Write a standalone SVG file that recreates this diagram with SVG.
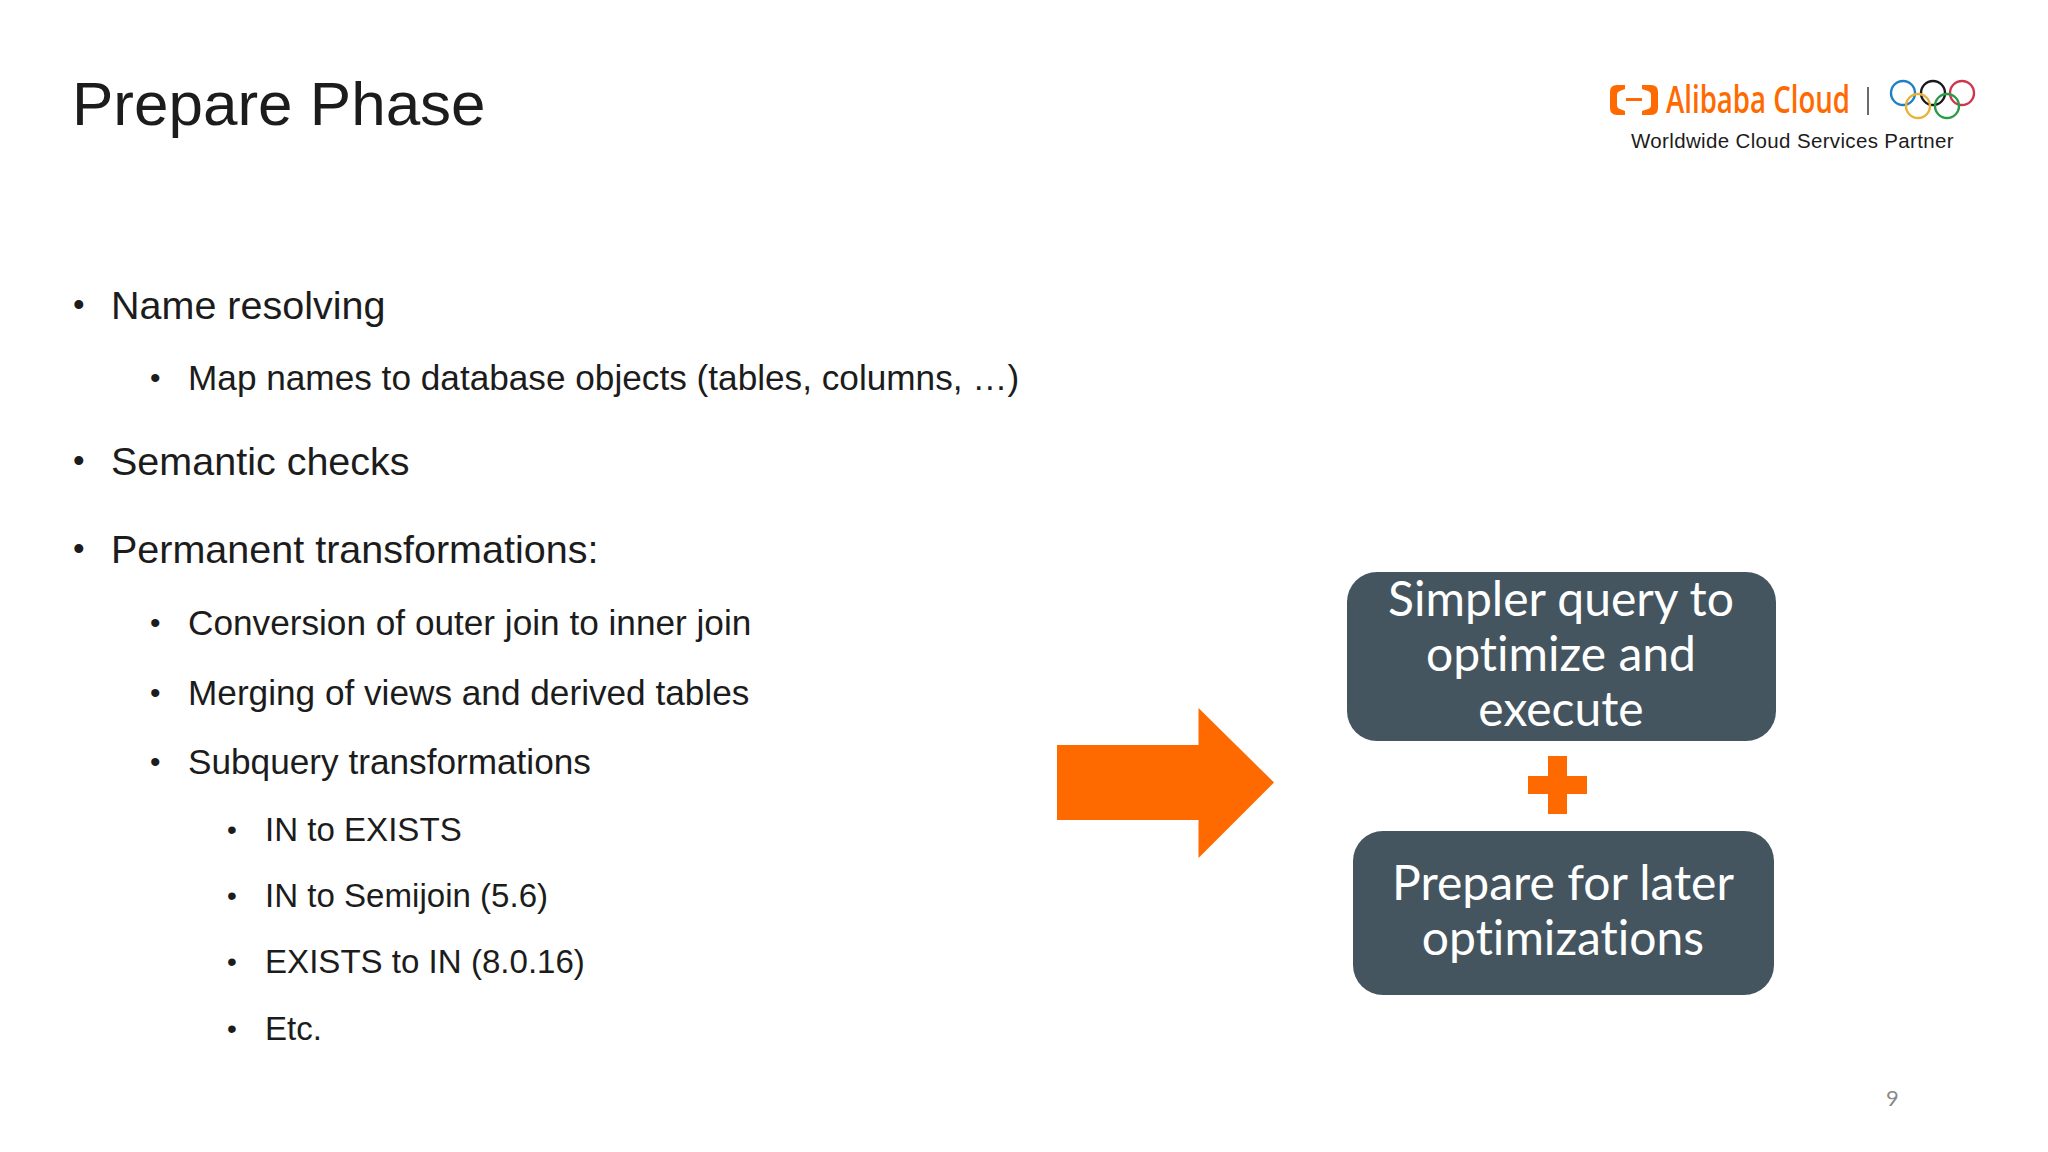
<svg xmlns="http://www.w3.org/2000/svg" width="2048" height="1152" viewBox="0 0 2048 1152">
<style>
text{font-family:"Liberation Sans",Arial,sans-serif;fill:#1c1c1c}
.l1{font-size:39.500px}.l2{font-size:35.200px}.l3{font-size:33.100px}
.b1{font-size:33px}.b2{font-size:30px}.b3{font-size:28px}
.bx{fill:#44555f}
.bt{font-family:Lato,"Open Sans",sans-serif;font-size:48px;fill:#fff;text-anchor:middle;font-variant-ligatures:none}
.or{fill:#ff6a00}
.ring{fill:none;stroke-width:2.4}
</style>
<rect width="2048" height="1152" fill="#fff"/>
<text id="title" x="72" y="125" font-size="62">Prepare Phase</text>
<g id="bullets">
<text class="b1" x="73" y="316">•</text><text class="l1" x="111" y="319">Name resolving</text>
<text class="b2" x="150" y="388">•</text><text class="l2" x="188" y="390">Map names to database objects (tables, columns, …)</text>
<text class="b1" x="73" y="472">•</text><text class="l1" x="111" y="475">Semantic checks</text>
<text class="b1" x="73" y="560">•</text><text class="l1" x="111" y="563">Permanent transformations:</text>
<text class="b2" x="150" y="633">•</text><text class="l2" x="188" y="635">Conversion of outer join to inner join</text>
<text class="b2" x="150" y="703">•</text><text class="l2" x="188" y="705">Merging of views and derived tables</text>
<text class="b2" x="150" y="772">•</text><text class="l2" x="188" y="774">Subquery transformations</text>
<text class="b3" x="227" y="839">•</text><text class="l3" x="265" y="841">IN to EXISTS</text>
<text class="b3" x="227" y="905">•</text><text class="l3" x="265" y="907">IN to Semijoin (5.6)</text>
<text class="b3" x="227" y="971">•</text><text class="l3" x="265" y="973">EXISTS to IN (8.0.16)</text>
<text class="b3" x="227" y="1038">•</text><text class="l3" x="265" y="1040">Etc.</text>
</g>
<g id="connectors">
<polygon id="arrow" class="or" points="1057,745 1198.500,745 1198.500,708 1274,782.500 1198.500,858 1198.500,820 1057,820"/>
</g>
<g id="node-simpler">
<rect class="bx" x="1347" y="572" width="429" height="169" rx="30"/>
<text class="bt" x="1561" y="616">Simpler query to</text>
<text class="bt" x="1561" y="671">optimize and</text>
<text class="bt" x="1561" y="726">execute</text>
</g>
<path id="plus" class="or" d="M1548 756h19v20h20v18h-20v20h-19v-20h-20v-18h20z"/>
<g id="node-prepare">
<rect class="bx" x="1353" y="831" width="421" height="164" rx="30"/>
<text class="bt" x="1563" y="900">Prepare for later</text>
<text class="bt" x="1563" y="955">optimizations</text>
</g>
<g id="logo">
<path class="or" d="M1625 85H1617Q1610 85 1610 92V108Q1610 115 1617 115H1625V111L1620 109Q1617 108 1617 105V95Q1617 92 1620 91L1625 89Z"/>
<path class="or" d="M1642 85H1651Q1658 85 1658 92V108Q1658 115 1651 115H1642V111L1648 109Q1651 108 1651 105V95Q1651 92 1648 91L1642 89Z"/>
<rect class="or" x="1626" y="98" width="16" height="3"/>
<text x="1666" y="113" font-size="37" font-weight="600" style="fill:#ff6a00;font-family:'Open Sans',sans-serif" textLength="184" lengthAdjust="spacingAndGlyphs">Alibaba Cloud</text>
<rect x="1867" y="87" width="2" height="28" fill="#6a6a6a"/>
<circle class="ring" cx="1903" cy="93" r="12" stroke="#1f7fc4"/>
<circle class="ring" cx="1933" cy="93" r="12" stroke="#1a1a1a"/>
<circle class="ring" cx="1962" cy="93" r="12" stroke="#d0344e"/>
<circle class="ring" cx="1918" cy="106" r="12" stroke="#e8b33a"/>
<circle class="ring" cx="1947" cy="106" r="12" stroke="#2a9b4a"/>
<text x="1631" y="148" font-size="20.500" letter-spacing="0.35">Worldwide Cloud Services Partner</text>
</g>
<text id="page" x="1886" y="1106" font-size="22" style="font-family:Lato,sans-serif;fill:#8a8a8a">9</text>
</svg>
